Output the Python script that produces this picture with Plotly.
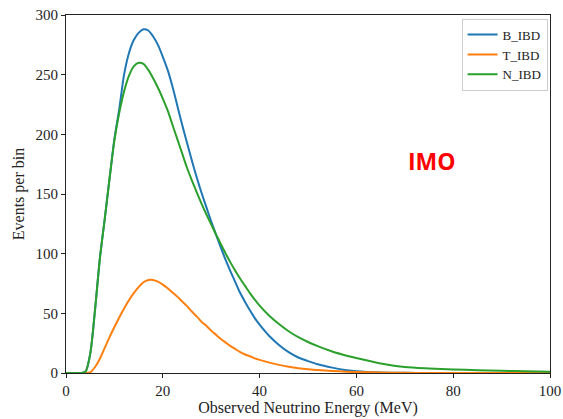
import plotly.graph_objects as go

energy = [0, 1, 2, 3, 4, 5, 6, 7, 8, 9, 10, 11, 12, 13, 14, 15, 16, 17, 18, 19, 20,
          21, 22, 23, 24, 25, 26, 27, 28, 29, 30, 31, 32, 33, 34, 35, 36, 37, 38, 39, 40,
          42, 44, 46, 48, 50, 52, 55, 58, 60, 65, 70, 75, 80, 85, 90, 95, 100]

b_ibd = [0, 0, 0, 0, 1, 16, 53, 96, 129, 163, 196, 221, 250, 268, 279, 285, 288, 287, 282, 275, 265,
         254, 240, 224, 208, 193, 178, 164, 151, 139, 127, 116, 105, 94.5, 85, 76, 67, 59.5, 52.5, 46, 40.5,
         31, 23.5, 17.5, 13, 10, 7.3, 4.5, 2.4, 1.5, 0.5, 0.15, 0.05, 0, 0, 0, 0, 0]

t_ibd = [0, 0, 0, 0, 0, 0.5, 5, 12, 21, 30, 38.5, 46.5, 54, 61, 67, 72, 76, 78, 78, 76.5, 74,
         71, 67.5, 64, 60, 56, 51.5, 47.5, 43, 39.5, 35.5, 32, 28.5, 25.5, 22.5, 20, 17.5, 15.5, 14, 12.3, 11,
         8.7, 6.8, 5.2, 4.0, 3.1, 2.5, 1.7, 1.1, 0.8, 0.35, 0.15, 0.05, 0, 0, 0, 0, 0]

n_ibd = [0, 0, 0, 0, 1, 16, 53, 96, 129, 163, 195, 218, 236, 249, 257, 260, 259, 254, 247, 239, 230,
         220, 208, 196, 184, 172, 161.5, 151.5, 142, 133, 124.5, 116, 108, 100, 92.5, 85.5, 79, 73, 67, 61.5, 56.5,
         48, 41, 35, 30, 26, 22.5, 18, 14.5, 12.5, 8, 5, 3.8, 3, 2.3, 1.8, 1.4, 1]

series = [("B_IBD", b_ibd, "#1f77b4"), ("T_IBD", t_ibd, "#ff7f0e"), ("N_IBD", n_ibd, "#2ca02c")]

fig = go.Figure()
for name, vals, col in series:
    fig.add_trace(go.Scatter(x=energy, y=vals, mode="lines", name=name,
                             line=dict(color=col, width=2, shape="spline", smoothing=0.8)))

serif = "Liberation Serif, Times New Roman, serif"
axis_common = dict(showline=True, mirror=True, linecolor="#222", linewidth=1,
                   ticks="outside", ticklen=4, tickcolor="#222", showgrid=False, zeroline=False,
                   automargin=False, ticklabeloverflow="allow",
                   tickfont=dict(family=serif, size=15, color="#222"))

fig.update_xaxes(range=[0, 100], tickvals=[0, 20, 40, 60, 80, 100],
                 title=dict(text="Observed Neutrino Energy (MeV)", standoff=2,
                            font=dict(family=serif, size=16, color="#222")),
                 **axis_common)
fig.update_yaxes(range=[0, 300], tickvals=[0, 50, 100, 150, 200, 250, 300],
                 title=dict(text="Events per bin", standoff=6,
                            font=dict(family=serif, size=16, color="#222")),
                 **axis_common)

fig.add_annotation(x=75.6, y=178, text="<b>IMO</b>", showarrow=False,
                   font=dict(family="Open Sans", size=23, color="#ff0000"))

fig.update_layout(
    width=563, height=419,
    margin=dict(l=66, r=13, t=15, b=46, autoexpand=False),
    plot_bgcolor="white", paper_bgcolor="white",
    legend=dict(x=0.995, y=0.99, xanchor="right", yanchor="top",
                bordercolor="#cccccc", borderwidth=1, bgcolor="rgba(255,255,255,0.8)",
                font=dict(family=serif, size=13, color="#222"),
                itemwidth=30, tracegroupgap=0),
    showlegend=True,
)

fig.write_html("out.html", config={"displayModeBar": False},
               post_script="document.body.style.margin='0';document.body.style.overflow='hidden';")
